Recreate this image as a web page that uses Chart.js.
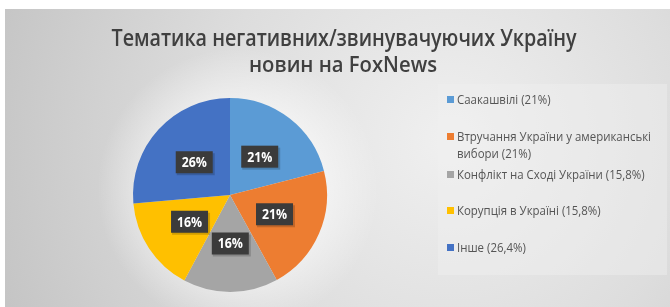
<!DOCTYPE html>
<html>
<head>
<meta charset="utf-8">
<script src="https://cdn.jsdelivr.net/npm/chart.js@4"></script>
<style>
  html,body{margin:0;padding:0;background:#fff;}
  #wrap{position:relative;width:670px;height:307px;}
</style>
</head>
<body>
<div id="wrap"><canvas id="c" width="670" height="307"></canvas></div>
<script>
const titleLines = ["Тематика негативних/звинувачуючих Україну", "новин на FoxNews"];
const categories = ["Саакашвілі", "Втручання України у американські|вибори", "Конфлікт на Сході України", "Корупція в Україні", "Інше"];
const values = [21, 21, 15.8, 15.8, 26.4];
const sliceLabels = ["21%", "21%", "16%", "16%", "26%"];
const colors = ["#5B9BD5", "#ED7D31", "#A5A5A5", "#FFC000", "#4472C4"];

const FONT = '"Open Sans", "DejaVu Sans", sans-serif';

function fitText(ctx, text, cx, y, targetW, align) {
  const w = ctx.measureText(text).width;
  const s = targetW / w;
  ctx.save();
  ctx.translate(cx, y);
  ctx.scale(s, 1);
  ctx.textAlign = align;
  ctx.fillText(text, 0, 0);
  ctx.restore();
}
function squeezeText(ctx, text, x, y, s) {
  ctx.save();
  ctx.translate(x, y);
  ctx.scale(s, 1);
  ctx.textAlign = 'left';
  ctx.fillText(text, 0, 0);
  ctx.restore();
}

const bgPlugin = {
  id: 'bg',
  beforeDraw(chart) {
    const ctx = chart.ctx;
    ctx.save();
    ctx.fillStyle = '#ffffff';
    ctx.fillRect(0, 0, 670, 307);
    const g = ctx.createRadialGradient(450, 140, 10, 450, 140, 520);
    g.addColorStop(0, '#efefef');
    g.addColorStop(0.45, '#dddddd');
    g.addColorStop(1, '#c0c0c0');
    ctx.fillStyle = g;
    ctx.fillRect(5, 9, 665, 298);
    const a = chart.getDatasetMeta(0).data[0];
    if (a) {
      const h = ctx.createRadialGradient(a.x + 8, a.y - 6, a.outerRadius * 0.9, a.x + 8, a.y - 6, a.outerRadius * 1.45);
      h.addColorStop(0, 'rgba(255,255,255,0.5)');
      h.addColorStop(1, 'rgba(255,255,255,0)');
      ctx.fillStyle = h;
      ctx.fillRect(5, 9, 665, 298);
    }
    ctx.fillStyle = 'rgba(240,240,240,0.45)';
    ctx.fillRect(438, 84, 229, 191);
    ctx.fillStyle = '#404040';
    ctx.textBaseline = 'middle';
    ctx.font = '600 24px ' + FONT;
    fitText(ctx, titleLines[0], 344, 39, 465, 'center');
    ctx.font = '600 21px ' + FONT;
    fitText(ctx, titleLines[1], 343, 66, 188, 'center');
    ctx.restore();
  }
};

const labelPlugin = {
  id: 'sliceLabels',
  afterDatasetsDraw(chart) {
    const ctx = chart.ctx;
    const meta = chart.getDatasetMeta(0);
    ctx.save();
    ctx.font = 'bold 14px ' + FONT;
    ctx.textBaseline = 'middle';
    meta.data.forEach((arc, i) => {
      const p = arc.tooltipPosition();
      const w = 37, h = 22;
      ctx.fillStyle = 'rgba(0,0,0,0.18)';
      ctx.fillRect(p.x - w / 2 + 1, p.y - h / 2 + 2, w + 1, h);
      ctx.fillStyle = '#3b3b3b';
      ctx.fillRect(p.x - w / 2, p.y - h / 2, w, h);
      ctx.fillStyle = '#ffffff';
      fitText(ctx, sliceLabels[i], p.x, p.y + 1, ctx.measureText(sliceLabels[i]).width * 0.88, 'center');
    });
    ctx.restore();
  }
};

const legendPlugin = {
  id: 'customLegend',
  afterDraw(chart) {
    const ctx = chart.ctx;
    const ys = [100, 137, 175, 211, 248];
    ctx.save();
    ctx.font = '13px ' + FONT;
    ctx.textBaseline = 'middle';
    chart.data.labels.forEach((lab, i) => {
      const v = chart.data.datasets[0].data[i];
      const text = lab + ' (' + String(v).replace('.', ',') + '%)';
      const lines = text.split('|').map(s => s.trim());
      const y = ys[i];
      ctx.fillStyle = chart.data.datasets[0].backgroundColor[i];
      ctx.fillRect(447, y - 4, 7, 7);
      ctx.fillStyle = '#555555';
      lines.forEach((ln, k) => squeezeText(ctx, ln, 457, y + k * 17, 0.88));
    });
    ctx.restore();
  }
};

new Chart(document.getElementById('c'), {
  type: 'pie',
  data: {
    labels: categories,
    datasets: [{
      data: values,
      backgroundColor: colors,
      borderWidth: 0
    }]
  },
  options: {
    responsive: false,
    animation: false,
    layout: { padding: { left: 133, right: 343, top: 98, bottom: 15 } },
    plugins: {
      legend: { display: false },
      title: { display: false },
      tooltip: { enabled: false }
    }
  },
  plugins: [bgPlugin, labelPlugin, legendPlugin]
});
</script>
</body>
</html>
